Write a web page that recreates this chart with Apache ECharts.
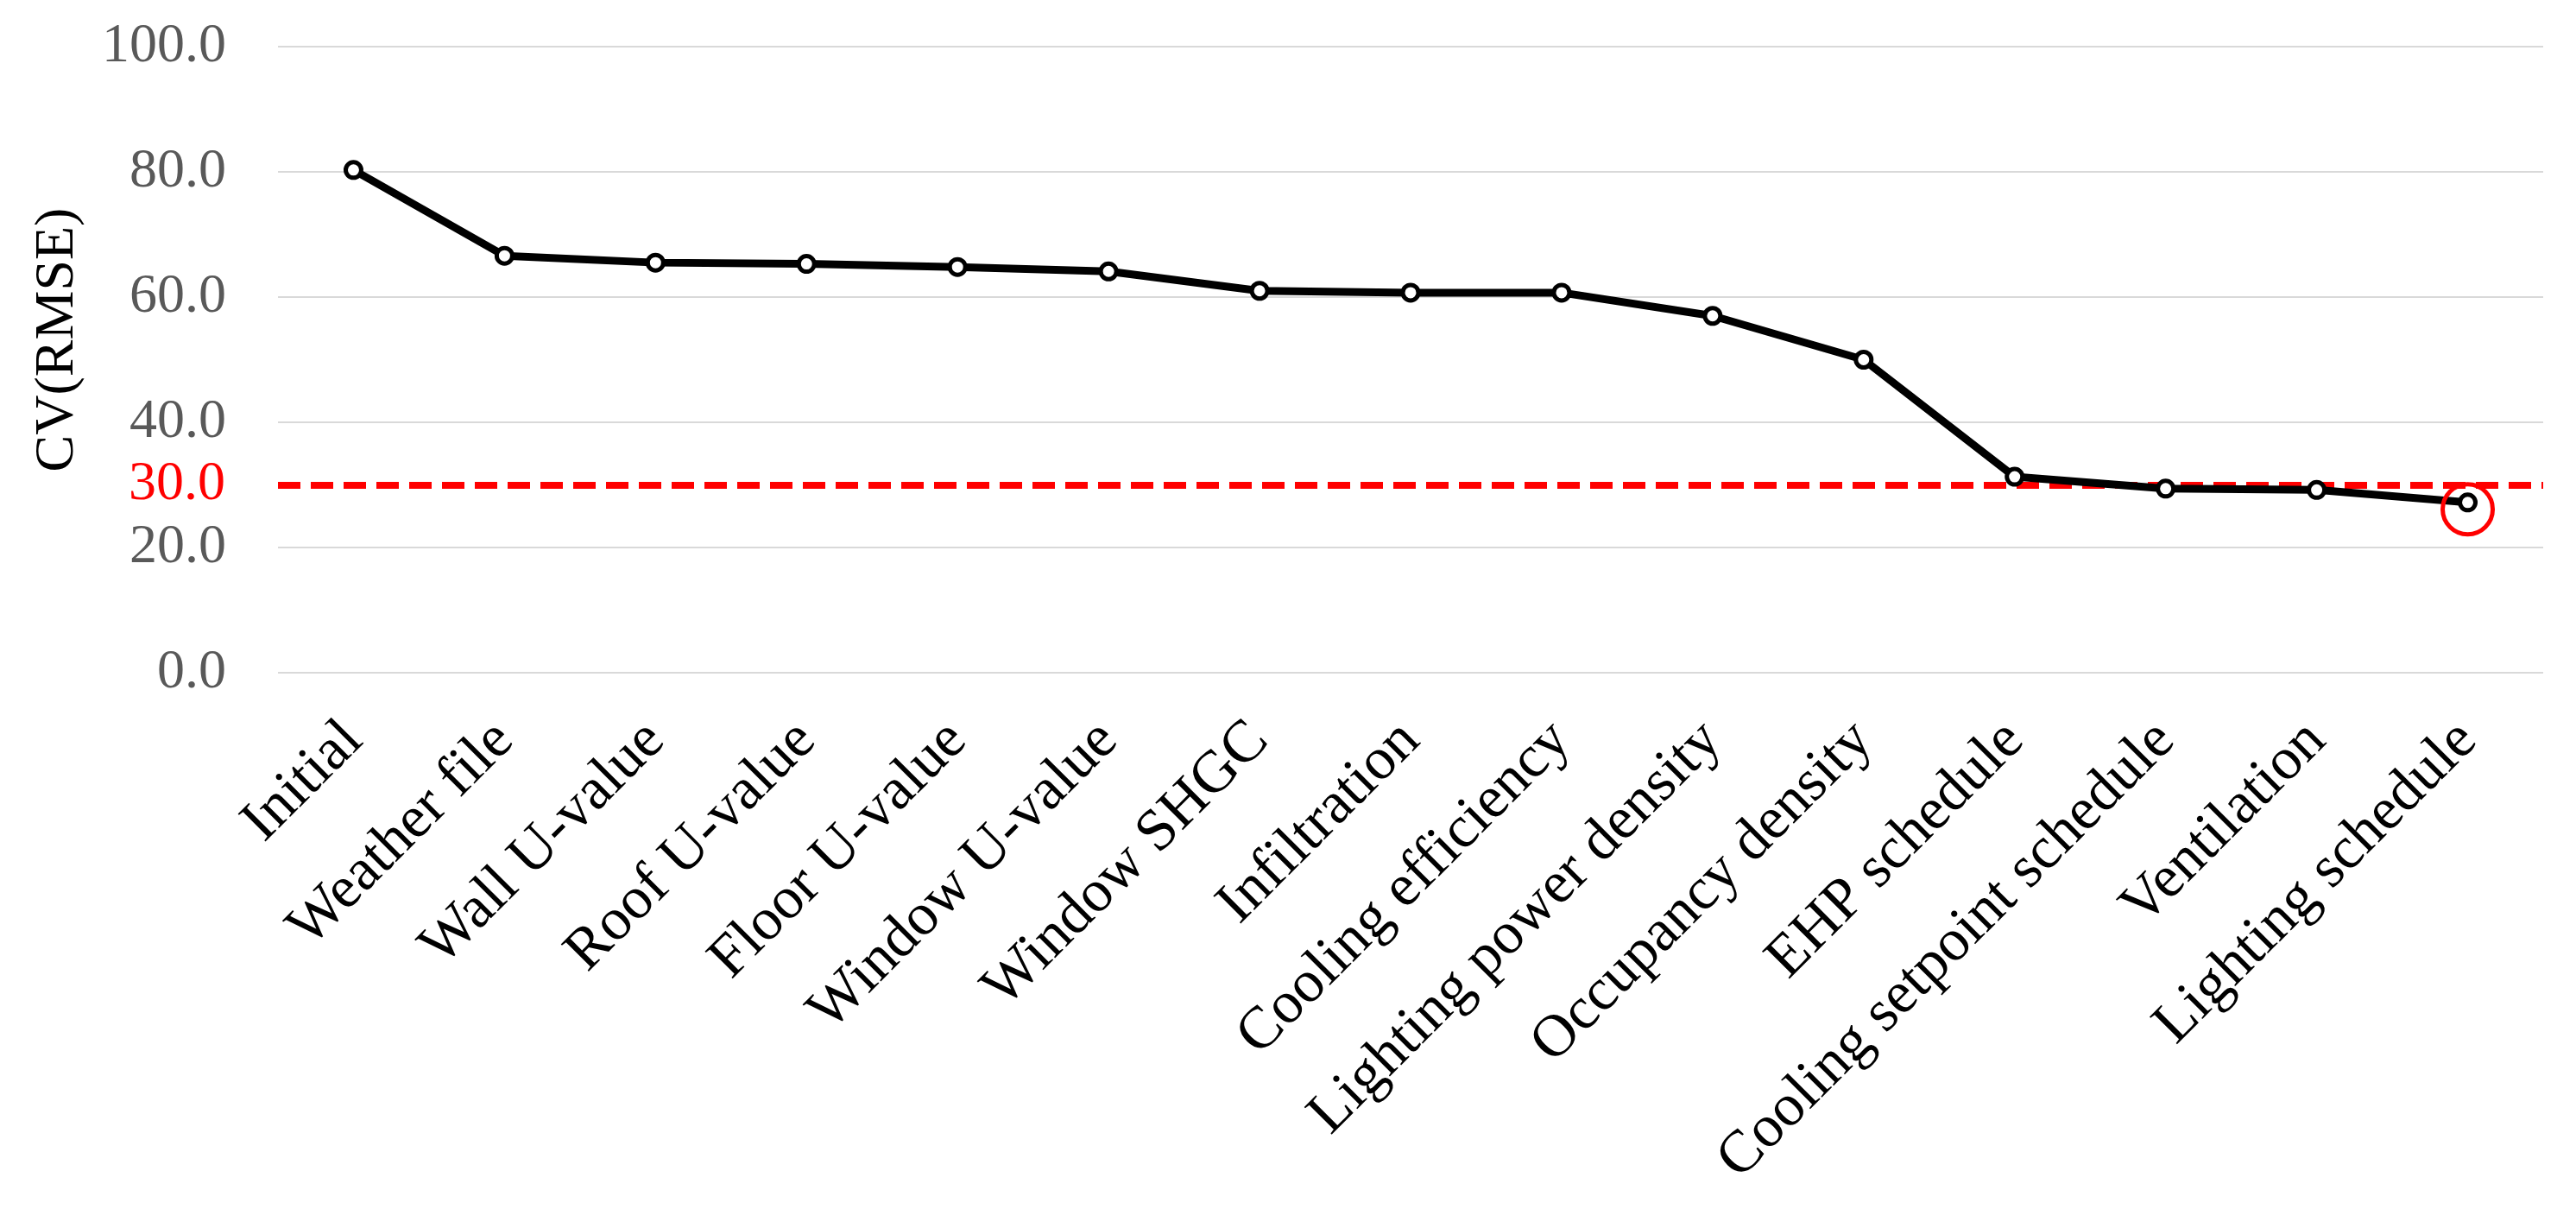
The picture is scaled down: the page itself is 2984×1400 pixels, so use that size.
<!DOCTYPE html>
<html>
<head>
<meta charset="utf-8">
<script src="https://cdn.jsdelivr.net/npm/echarts@6/dist/echarts.min.js"></script>
<style>
html,body{margin:0;padding:0;background:#fff;}
#chart{width:2984px;height:1400px;}
</style>
</head>
<body>
<div id="chart"></div>
<script>
const categories = ["Initial","Weather file","Wall U-value","Roof U-value","Floor U-value","Window U-value","Window SHGC","Infiltration","Cooling efficiency","Lighting power density","Occupancy density","EHP schedule","Cooling setpoint schedule","Ventilation","Lighting schedule"];
const cvRmse = [80.3, 66.6, 65.5, 65.3, 64.8, 64.1, 61.0, 60.7, 60.7, 57.0, 50.0, 31.3, 29.4, 29.2, 27.2];
const threshold = 30;
const yTicks = {min: 0, max: 100, interval: 20};
const yName = "CV(RMSE)";

const FONT = "'Liberation Serif', 'Times New Roman', serif";
const chart = echarts.init(document.getElementById('chart'), null, {renderer: 'canvas'});
chart.setOption({
  animation: false,
  backgroundColor: '#ffffff',
  grid: {left: 322, right: 38, top: 54, bottom: 621, containLabel: false},
  xAxis: {
    type: 'category',
    data: categories,
    boundaryGap: true,
    axisLine: {show: false},
    axisTick: {show: false},
    axisLabel: {
      interval: 0,
      rotate: 45,
      margin: 68,
      fontFamily: FONT,
      fontSize: 69,
      color: '#000000'
    }
  },
  yAxis: {
    type: 'value',
    min: yTicks.min,
    max: yTicks.max,
    interval: yTicks.interval,
    name: yName,
    nameLocation: 'middle',
    nameRotate: 90,
    nameGap: 255,
    nameTextStyle: {fontFamily: FONT, fontSize: 64, color: '#000000', verticalAlign: 'middle', padding: [0, 0, 0, 46]},
    axisLine: {show: false},
    axisTick: {show: false},
    axisLabel: {
      margin: 60,
      fontFamily: FONT,
      fontSize: 64,
      color: '#595959',
      formatter: v => v.toFixed(1)
    },
    splitLine: {lineStyle: {color: '#d9d9d9', width: 2}}
  },
  series: [{
    type: 'line',
    data: cvRmse,
    symbol: 'circle',
    symbolSize: 18,
    lineStyle: {color: '#000000', width: 9},
    itemStyle: {color: '#ffffff', borderColor: '#000000', borderWidth: 5},
    emphasis: {disabled: true},
    z: 3,
    markLine: {
      silent: true,
      symbol: 'none',
      lineStyle: {color: '#ff0000', width: 8, type: [26, 12]},
      label: {
        show: true,
        position: 'start',
        distance: 61,
        formatter: threshold.toFixed(1),
        fontFamily: FONT,
        fontSize: 64,
        color: '#ff0000'
      },
      data: [{yAxis: threshold}],
      z: 2
    },
    markPoint: {
      silent: true,
      symbol: 'circle',
      symbolSize: 58,
      symbolOffset: [0, 8],
      itemStyle: {color: 'rgba(0,0,0,0)', borderColor: '#ff0000', borderWidth: 5},
      label: {show: false},
      data: [{coord: [categories[categories.length - 1], cvRmse[cvRmse.length - 1]]}]
    }
  }]
});
</script>
</body>
</html>
